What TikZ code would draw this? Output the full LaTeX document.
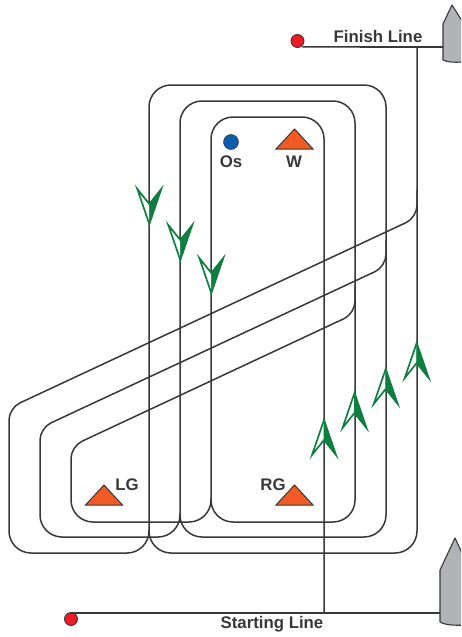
\documentclass[tikz,border=0pt]{standalone}
\usepackage{fontspec}
\setmainfont{Liberation Sans}
\definecolor{lineink}{HTML}{38383A}
\definecolor{markorange}{HTML}{F15A22}
\definecolor{dotred}{HTML}{ED1C24}
\definecolor{dotblue}{HTML}{0B5CAD}
\definecolor{arrowgreen}{HTML}{0F7F41}
\definecolor{boatgrey}{HTML}{B1B3B6}
\tikzset{
  course/.style={draw=lineink,line width=1.5pt,line join=round},
  startline/.style={draw=lineink,line width=1.6pt},
  roundcorner/.style={rounded corners=22pt},
  buoyred/.style={circle,draw=lineink,line width=.9pt,fill=dotred,minimum size=13pt,inner sep=0pt},
  buoyblue/.style={circle,draw=lineink,line width=.5pt,fill=dotblue,minimum size=15pt,inner sep=0pt},
  marktri/.style={draw=lineink,line width=1pt,fill=markorange,line join=miter},
  boat/.style={draw=lineink,line width=1.1pt,fill=boatgrey,line join=round},
  lab/.style={font=\fontsize{16.8}{18}\selectfont\bfseries,text=lineink,inner sep=0pt},
  greenline/.style={draw=arrowgreen,line width=1.7pt,line join=miter,fill=white},
  greenfill/.style={fill=arrowgreen,draw=arrowgreen,line width=.6pt,line join=miter}
}
% #1 x, #2 tip y, #3 direction (+1 head points up, -1 points down)
\newcommand{\courseArrow}[3]{%
  \path[greenline] (#1,#2) -- (#1-12,#2+#3*35) -- (#1,#2+#3*20) -- (#1+12,#2+#3*35) -- cycle;
  \path[greenfill] (#1,#2) -- (#1,#2+#3*20) -- (#1+12,#2+#3*35) -- cycle;
}
\newcommand{\markTri}[2]{%
  \path[marktri] (#1,#2) -- (#1+18.5,#2+20) -- (#1-18.5,#2+20) -- cycle;
}
\begin{document}
\begin{tikzpicture}[x=1pt,y=-1pt]
\useasboundingbox (0,0) rectangle (461,637);
\clip (0,0) rectangle (461,637);
\fill[white] (0,0) rectangle (461,637);

% boats
\path[boat] (452,5) -- (443,24) -- (443,60) .. controls (448,62.5) and (456,62.5) .. (461,62) -- (464,62) -- (464,24) -- cycle;
\path[boat] (455,538) -- (440,570) -- (440,622) .. controls (446,625.5) and (456,625.5) .. (470,625) -- (470,570) -- cycle;

% buoys
\node[buoyred] (finishbuoy) at (297.5,41) {};
\node[buoyred] (startbuoy) at (71,619) {};
\coordinate (finishboat) at (443,47);
\coordinate (startboat) at (440,613);
\coordinate (startcross) at (324,613);
\coordinate (finishcross) at (417,47);

% start and finish lines
\draw[startline] (finishbuoy.south east) ++(0,1) -- (finishboat);
\draw[startline] (startbuoy.north) -- ++(0,0) |- (startboat);

% main course
\path[course,roundcorner] (startcross)
  -- (324,117) -- (211,117) -- (211,522)
  -- (355,522) -- (355,101) -- (180,101) -- (180,537)
  -- (386,537) -- (386,85) -- (149,85) -- (149,553)
  -- (417,553) -- (finishcross);

% diagonal legs
\path[course] (211,498) [rounded corners=22pt] -- (211,522) -- (71,522)
  [rounded corners=12pt] -- (71,446.4) -- (355,313.5) -- (355,285);
\path[course] (180,513) [rounded corners=22pt] -- (180,537) -- (40,537)
  [rounded corners=12pt] -- (40,428) -- (386,266.5) -- (386,240);
\path[course] (149,529) [rounded corners=22pt] -- (149,553) -- (9,553)
  [rounded corners=12pt] -- (9,408) -- (417,217.5) -- (417,190);

% marks
\markTri{294.5}{129}
\markTri{104}{485}
\markTri{294.5}{485}
\node[buoyblue] (osbuoy) at (231,142) {};

% course arrows
\courseArrow{149.3}{224}{-1}
\courseArrow{180.3}{260}{-1}
\courseArrow{211.3}{293}{-1}
\courseArrow{324}{420}{1}
\courseArrow{354.5}{393}{1}
\courseArrow{385.7}{369}{1}
\courseArrow{416.7}{343}{1}

% labels
\node[lab] (os) at (231,162) {Os};
\node[lab] (w) at (294,162) {W};
\node[lab] (lg) at (127,485) {LG};
\node[lab] (rg) at (273,485) {RG};
\node[lab] (finish) at (378,36) {Finish Line};
\node[lab] (starting) at (272,624) {Starting Line};
\end{tikzpicture}
\end{document}
